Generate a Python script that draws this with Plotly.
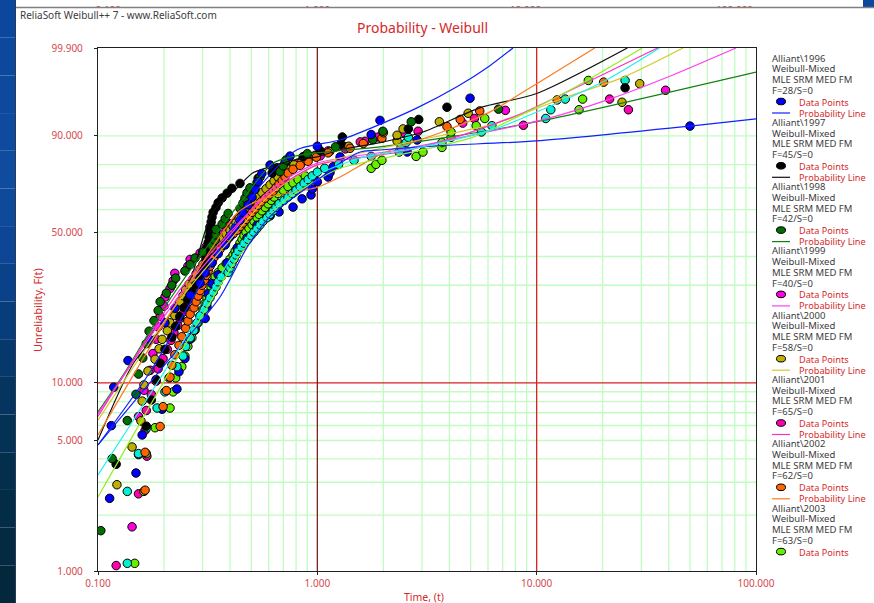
import math
import plotly.graph_objects as go

W, H = 874, 603

# (unreliability %, time)
PTS_1996 = [(2.46,.113),(5.99,.115),(9.5,.118),(13.0,.137),(16.5,.173),(20.0,.202),(23.5,.224),(27.1,.263),(30.6,.292),(34.1,.308),(37.6,.331),(41.1,.353),(44.6,.380),(48.2,.400),(51.7,.422),(55.2,.444),(58.7,.458),(62.2,.483),(65.7,.504),(69.3,.520),(72.8,.537),(76.3,.559),(79.8,.609),(83.3,.751),(86.8,1.00),(90.4,1.76),(93.9,1.93),(97.5,4.97)]
PTS_1997 = [(3.74,.121),(5.95,.166),(8.15,.175),(10.4,.184),(12.6,.192),(14.8,.202),(17.0,.217),(19.2,.226),(21.4,.236),(23.6,.247),(25.8,.257),(28.0,.268),(30.2,.280),(32.4,.292),(34.6,.301),(36.8,.308),(39.0,.311),(41.2,.314),(43.4,.314),(45.6,.318),(47.8,.321),(50.0,.324),(52.2,.324),(54.4,.328),(56.6,.331),(58.8,.335),(61.0,.345),(63.2,.353),(65.4,.368),(67.6,.388),(69.8,.408),(72.0,.444),(74.3,.537),(76.5,.622),(78.7,.655),(80.9,.713),(83.1,.861),(85.3,1.03),(87.5,1.28),(89.7,1.30),(91.9,2.60),(94.1,2.90),(96.3,3.90),(98.5,25.3)]
PTS_1998 = [(1.65,.103),(4.01,.116),(6.37,.136),(8.73,.149),(11.1,.153),(13.4,.160),(15.8,.166),(18.2,.171),(20.5,.180),(22.9,.188),(25.2,.192),(27.6,.205),(30.0,.217),(32.3,.226),(34.7,.249),(37.0,.263),(39.4,.277),(41.7,.300),(44.1,.331),(46.5,.342),(48.8,.345),(51.2,.345),(53.5,.368),(55.9,.380),(58.3,.392),(60.6,.444),(63.0,.458),(65.3,.468),(67.7,.478),(70.0,.493),(72.4,.531),(74.8,.548),(77.1,.676),(79.5,.698),(81.8,.720),(84.2,.900),(86.6,1.21),(88.9,1.79),(91.3,1.99),(93.6,2.68),(96.0,6.70)]
PTS_1999 = [(1.73,.143),(4.21,.153),(6.68,.153),(9.16,.162),(11.6,.173),(14.1,.178),(16.6,.184),(19.1,.188),(21.5,.192),(24.0,.200),(26.5,.202),(29.0,.213),(31.4,.220),(33.9,.224),(36.4,.257),(38.9,.263),(41.3,.292),(43.8,.311),(46.3,.331),(48.8,.360),(51.2,.384),(53.7,.408),(56.2,.435),(58.7,.463),(61.1,.493),(63.6,.526),(66.1,.559),(68.6,.597),(71.0,.629),(73.5,.669),(76.0,.713),(78.5,.767),(80.9,.852),(83.4,1.03),(85.9,1.34),(88.4,1.65),(90.8,2.50),(93.3,4.60),(95.8,7.20),(98.3,38.7)]
PTS_2000 = [(2.91,.122),(4.62,.143),(6.34,.157),(8.05,.159),(9.76,.162),(11.5,.169),(13.2,.182),(14.9,.190),(16.6,.196),(18.3,.207),(20.0,.213),(21.7,.224),(23.4,.229),(25.2,.236),(26.9,.244),(28.6,.251),(30.3,.260),(32.0,.271),(33.7,.280),(35.4,.292),(37.1,.301),(38.8,.311),(40.6,.324),(42.3,.338),(44.0,.349),(45.7,.360),(47.4,.372),(49.1,.384),(50.8,.400),(52.5,.413),(54.2,.426),(56.0,.440),(57.7,.454),(59.4,.468),(61.1,.483),(62.8,.498),(64.5,.514),(66.2,.537),(67.9,.559),(69.6,.584),(71.4,.609),(73.1,.635),(74.8,.662),(76.5,.698),(78.2,.735),(79.9,.783),(81.6,.852),(83.3,.977),(85.0,1.14),(86.8,1.39),(88.5,2.31),(90.2,2.31),(91.9,2.46),(93.6,3.60),(95.3,4.87),(97.0,24.5),(98.8,29.5)]
PTS_2001 = [(1.07,.121),(2.60,.153),(4.13,.167),(5.66,.164),(7.19,.166),(8.72,.175),(10.2,.184),(11.8,.188),(13.3,.198),(14.8,.207),(16.4,.215),(17.9,.222),(19.4,.231),(21.0,.236),(22.5,.244),(24.0,.251),(25.5,.257),(27.1,.263),(28.6,.268),(30.1,.277),(31.7,.286),(33.2,.292),(34.7,.301),(36.2,.308),(37.8,.314),(39.3,.321),(40.8,.331),(42.4,.342),(43.9,.353),(45.4,.364),(46.9,.376),(48.5,.388),(50.0,.404),(51.5,.417),(53.1,.431),(54.6,.444),(56.1,.458),(57.6,.473),(59.2,.488),(60.7,.504),(62.2,.520),(63.8,.537),(65.3,.554),(66.8,.571),(68.3,.597),(69.9,.622),(71.4,.641),(72.9,.662),(74.5,.683),(76.0,.705),(77.5,.735),(79.0,.767),(80.6,.817),(82.1,.880),(83.6,.977),(85.2,1.12),(86.7,1.34),(88.2,1.57),(89.7,1.90),(91.3,2.88),(92.8,8.70),(94.3,5.20),(95.9,26.2),(97.4,21.5)]
PTS_2002 = [(2.72,.164),(4.33,.164),(5.93,.192),(7.53,.198),(9.13,.205),(10.7,.213),(12.3,.217),(13.9,.224),(15.5,.234),(17.1,.241),(18.8,.251),(20.4,.257),(22.0,.263),(23.6,.274),(25.2,.280),(26.8,.286),(28.4,.292),(30.0,.298),(31.6,.305),(33.2,.311),(34.8,.318),(36.4,.324),(38.0,.331),(39.6,.338),(41.2,.349),(42.8,.360),(44.4,.372),(46.0,.384),(47.6,.396),(49.2,.413),(50.8,.431),(52.4,.444),(54.0,.458),(55.6,.473),(57.2,.488),(58.8,.504),(60.4,.520),(62.1,.537),(63.7,.554),(65.3,.578),(66.9,.603),(68.5,.629),(70.1,.648),(71.7,.669),(73.3,.691),(74.9,.713),(76.5,.735),(78.1,.775),(79.7,.835),(81.3,.908),(82.9,.990),(84.5,1.12),(86.1,1.41),(87.7,1.62),(89.3,1.97),(90.9,2.00),(92.5,3.90),(94.1,4.48),(95.7,5.50),(97.3,12.4),(98.9,20.2)]
PTS_2003 = [(1.10,.147),(2.68,.162),(4.26,.166),(5.84,.182),(7.41,.213),(8.99,.220),(10.6,.226),(12.1,.241),(13.7,.249),(15.3,.257),(16.9,.268),(18.4,.277),(20.0,.286),(21.6,.292),(23.2,.301),(24.8,.308),(26.3,.314),(27.9,.321),(29.5,.328),(31.1,.335),(32.7,.342),(34.2,.353),(35.8,.368),(37.4,.384),(39.0,.400),(40.6,.413),(42.1,.422),(43.7,.435),(45.3,.444),(46.9,.454),(48.5,.463),(50.0,.473),(51.6,.488),(53.2,.504),(54.8,.514),(56.4,.531),(57.9,.542),(59.5,.559),(61.1,.578),(62.7,.597),(64.3,.616),(65.8,.635),(67.4,.662),(69.0,.698),(70.6,.735),(72.2,.775),(73.7,.817),(75.3,.880),(76.9,1.14),(78.5,1.76),(80.1,1.85),(81.7,1.97),(83.2,2.82),(84.8,3.03),(86.4,3.70),(88.0,3.70),(89.6,4.07),(91.1,4.07),(92.7,5.30),(94.3,5.80),(95.9,15.6),(97.4,16.2),(99.0,17.2)]
PTS_EXTRA_BLUE = [(3.36,.149),(5.35,.159),(7.3,.196),(9.3,.229),(11.4,.234),(13.3,.249),(16.6,.263),(18.8,.277),(21.0,.308),(23.8,.314),(27.4,.318),(30.5,.331),(33.4,.353),(37.6,.388),(43.3,.431),(47.5,.478),(53.0,.531),(57.2,.609),(59.0,.669),(61.2,.775),(65.0,.852),(66.8,.936),(69.5,.948),(72.7,1.00),(74.8,1.12),(76.6,1.14),(79.1,1.18),(83.0,1.27),(84.8,2.57),(88.8,2.85),(92.6,50.0)]
PTS_CYAN = [(1.10,.136),(2.68,.136),(4.26,.153),(5.84,.167),(7.41,.186),(8.99,.202),(10.6,.211),(12.1,.229),(13.7,.244),(15.3,.251),(16.9,.263),(18.4,.274),(20.0,.283),(21.6,.292),(23.2,.305),(24.8,.314),(26.3,.324),(27.9,.335),(29.5,.345),(31.1,.353),(32.7,.364),(34.2,.392),(35.8,.400),(37.4,.408),(39.0,.417),(40.6,.426),(42.1,.435),(43.7,.449),(45.3,.463),(46.9,.483),(48.5,.498),(50.0,.514),(51.6,.531),(53.2,.548),(54.8,.565),(56.4,.590),(57.9,.609),(59.5,.629),(61.1,.648),(62.7,.669),(64.3,.705),(65.8,.735),(67.4,.767),(69.0,.800),(70.6,.835),(72.2,.870),(73.7,.908),(75.3,.948),(76.9,1.00),(78.5,1.08),(80.1,1.25),(81.7,1.47),(83.2,1.76),(84.8,2.36),(86.4,2.41),(88.0,2.54),(89.6,2.60),(91.1,5.60),(92.7,6.25),(94.3,11.0),(95.9,11.6),(97.4,13.5),(99.0,25.3)]

# probability lines: (time, unreliability %)
LINE_1996 = [(.1,4.74),(.173,11.4),(.292,30),(.4,51),(.565,72.3),(.809,85.6),(1.27,88.8),(1.79,92.3),(2.85,96.2),(4.35,98.6),(6.1,99.6),(7.8,99.9)]
LINE_1997 = [(.1,5.03),(.145,12.6),(.192,18.5),(.263,31.7),(.331,58.5),(.431,70),(.509,76.6),(.629,79.5),(.775,81.8),(1.0,83),(1.27,85.6),(1.93,88),(3.03,91.1),(5.5,96.2),(10,98),(25.9,99.9)]
LINE_1998 = [(.1,7.07),(.133,11.4),(.202,23.9),(.349,49.5),(.444,63.1),(.629,80.6),(.835,83.7),(1.93,86.6),(4.1,89.8),(11,94),(100,99.4)]
LINE_1999 = [(.1,6.9),(.236,27.1),(.4,48.7),(.609,69),(1,80.6),(2.38,85.6),(11,94.2),(21.5,97.4),(41.8,99.28),(81,99.9)]
LINE_2000 = [(.1,6.4),(.236,25.7),(.4,46.6),(.609,66.8),(1,79.9),(2.57,88),(6.6,93.3),(13.2,97.5),(24.9,99.18),(46.5,99.9)]
LINE_2001 = [(.1,6.7),(.236,28.6),(.4,50),(.609,67.6),(1,79.9),(2.38,84.8),(4.35,89.8),(8.7,95.4),(17.8,99.03),(35.6,99.9)]
LINE_2002 = [(.1,5.35),(.236,26.2),(.431,58.5),(.509,63.1),(.629,66.3),(1,70.3),(1.27,74.8),(1.99,84.4),(3.63,90.9),(6.1,95.5),(10,98.8),(18.4,99.9)]
LINE_2003 = [(.1,2.5),(.257,16.5),(.422,38),(.676,62.2),(1,73.5),(1.27,78.5),(2.57,84.4),(5.1,89.6),(10,96.3),(14.8,98.5),(30.3,99.9)]
LINE_EXTRA_BLUE = [(.1,4.74),(.192,11.6),(.36,26.5),(.478,43.6),(.609,57),(.809,66.8),(1,73.5),(1.27,80.6),(1.57,84.8),(1.99,85.6),(3.63,87),(10,88.5),(50,92.6),(100,94.2)]
LINE_CYAN = [(.1,3.28),(.244,16.1),(.4,38.7),(.609,59),(1,75.7),(1.57,82.6),(2.94,86.4),(6.6,92.1),(12.4,96.9),(20.8,99.03),(36.3,99.9)]

SERIES = [
    ("Alliant\\1996", 28, "#0000ff", "#1020ff", PTS_1996, LINE_1996),
    ("Alliant\\1997", 45, "#000000", "#101010", PTS_1997, LINE_1997),
    ("Alliant\\1998", 42, "#006e00", "#108010", PTS_1998, LINE_1998),
    ("Alliant\\1999", 40, "#ff00e0", "#ff40f0", PTS_1999, LINE_1999),
    ("Alliant\\2000", 58, "#bdb000", "#d4c830", PTS_2000, LINE_2000),
    ("Alliant\\2001", 65, "#ff00b0", "#ff30c0", PTS_2001, LINE_2001),
    ("Alliant\\2002", 62, "#ff6400", "#ff7820", PTS_2002, LINE_2002),
    ("Alliant\\2003", 63, "#66f000", "#90f020", PTS_2003, LINE_2003),
    ("Alliant\\2004", None, "#0000ff", "#1020ff", PTS_EXTRA_BLUE, LINE_EXTRA_BLUE),
    ("Alliant\\2005", None, "#00f0d0", "#20f0f0", PTS_CYAN, LINE_CYAN),
]
DRAW_ORDER = [3, 5, 4, 7, 8, 9, 6, 1, 2, 0]

Y_TICKS = [1, 5, 10, 50, 90, 99.9]
Y_TICK_TEXT = ["1.000", "5.000", "10.000", "50.000", "90.000", "99.900"]
Y_GRID = [2, 3, 4, 6, 7, 8, 9, 20, 30, 40, 60, 70, 80]
X_TICKS = [.1, 1, 10, 100]
X_TICK_TEXT = ["0.100", "1.000", "10.000", "100.000"]
X_GRID = [m * d for d in (.1, 1, 10) for m in range(2, 10)]

RED = "#d42a2a"
LABEL = "#d4494f"
DARK = "#3c3c3c"
GREEN = "#c2fcc2"
FONT = "Noto Sans, sans-serif"
STRIP = ["#0b479c", "#0c489c", "#0d4a9e", "#0e4b9f", "#0f4c9e", "#0e4a9a", "#0c4694", "#0a428a", "#083d7c", "#06386c", "#05345e", "#043254", "#042f4c", "#032c46", "#032a40", "#03283c"]


def wb(f):
    return math.log(-math.log(1 - f / 100))


fig = go.Figure()
for idx in DRAW_ORDER:
    name, n, pc, lc, pts, line = SERIES[idx]
    fig.add_trace(go.Scatter(
        x=[p[1] for p in pts], y=[wb(p[0]) for p in pts], mode="markers", name=name,
        marker=dict(color=pc, size=8.5, line=dict(color="#000000", width=1)),
        showlegend=False))
for name, n, pc, lc, pts, line in SERIES:
    fig.add_trace(go.Scatter(
        x=[p[0] for p in line], y=[wb(p[1]) for p in line], mode="lines",
        line=dict(color=lc, width=1.2, shape="spline", smoothing=0.7), showlegend=False))

# the clipped axis labels of the chart above, at the very top of the page
fig.add_trace(go.Scatter(x=[71, 94, 307, 519, 732], y=[-5, 11, 11, 11, 11],
                         text=["<b>0.100</b>", "0.100", "1.000", "10.000", "100.000"], mode="text",
                         textfont=dict(color="#d42a2a", size=10, family=FONT), xaxis="x2", yaxis="y2",
                         showlegend=False, cliponaxis=True))

shapes = []
for i, c in enumerate(STRIP):
    shapes.append(dict(type="rect", xref="paper", yref="paper", x0=0, x1=16 / W,
                       y0=1 - (i + 1) / len(STRIP), y1=1 - i / len(STRIP),
                       fillcolor=c, line_width=0, layer="below"))
shapes.append(dict(type="line", xref="paper", yref="paper", x0=15.5 / W, x1=15.5 / W, y0=0, y1=1,
                   line=dict(color="#2a3a5a", width=1)))
shapes.append(dict(type="rect", xref="paper", yref="paper", x0=863 / W, x1=1, y0=1 - 7 / H, y1=1,
                   fillcolor="#0b479c", line_width=0))
shapes.append(dict(type="line", xref="paper", yref="paper", x0=16 / W, x1=1, y0=1 - 7.5 / H, y1=1 - 7.5 / H,
                   line=dict(color="#808080", width=1.5)))
for f in Y_GRID + [5, 50, 90]:
    shapes.append(dict(type="line", xref="x domain", yref="y", x0=0, x1=1, y0=wb(f), y1=wb(f),
                       line=dict(color=GREEN, width=1.3), layer="below"))
for x in X_GRID:
    shapes.append(dict(type="line", xref="x", yref="y domain", x0=x, x1=x, y0=0, y1=1,
                       line=dict(color=GREEN, width=1.3), layer="below"))
shapes.append(dict(type="line", xref="x domain", yref="y", x0=0, x1=1, y0=wb(10), y1=wb(10),
                   line=dict(color="#d82020", width=1.3), layer="below"))
shapes.append(dict(type="line", xref="x", yref="y domain", x0=1, x1=1, y0=0, y1=1,
                   line=dict(color="#7a1010", width=1.2), layer="below"))
shapes.append(dict(type="line", xref="x", yref="y domain", x0=10, x1=10, y0=0, y1=1,
                   line=dict(color="#d82020", width=1.3), layer="below"))

annotations = []


def text(x, y, s, color, size=10, anchor="left", angle=0):
    annotations.append(dict(x=x / W, y=1 - y / H, xref="paper", yref="paper", text=s, showarrow=False,
                            xanchor=anchor, yanchor="middle", textangle=angle, borderpad=0, borderwidth=0,
                            font=dict(color=color, size=size, family=FONT)))


text(20, 14.5, "ReliaSoft Weibull++ 7 - www.ReliaSoft.com", DARK, 10)
text(422, 27, "Probability - Weibull", RED, 14, "center")
text(424, 596.5, "Time, (t)", RED, 10.5, "center")
text(37, 310, "Unreliability, F(t)", RED, 11, "center", -90)

for i, (name, n, pc, lc, pts, line) in enumerate(SERIES[:8]):
    top = 58 + 64.3 * i
    for k, s in enumerate([name, "Weibull-Mixed", "MLE SRM MED FM", f"F={n}/S=0"]):
        text(772, top + 10.7 * k, s, DARK, 9.5)
    text(798.5, top + 44, "Data Points", RED, 9.2)
    my = top + 43.5
    shapes.append(dict(type="circle", xref="paper", yref="paper", x0=776.5 / W, x1=785.5 / W,
                       y0=1 - (my + 3.3) / H, y1=1 - (my - 3.3) / H, fillcolor=pc,
                       line=dict(color="#000000", width=1)))
    if i < 7:
        text(798.5, top + 55, "Probability Line", RED, 9.2)
        ly = top + 55
        shapes.append(dict(type="line", xref="paper", yref="paper", x0=772 / W, x1=790 / W,
                           y0=1 - ly / H, y1=1 - ly / H, line=dict(color=lc, width=1.2)))

fig.update_layout(
    width=W, height=H, margin=dict(l=0, r=0, t=0, b=0, autoexpand=False), paper_bgcolor="#ffffff", plot_bgcolor="#ffffff",
    shapes=shapes, annotations=annotations, showlegend=False,
    xaxis=dict(type="log", range=[-1, 2], domain=[98 / W, 756 / W], tickvals=X_TICKS, ticktext=X_TICK_TEXT,
               showgrid=False, zeroline=False, showline=True, mirror=True, linecolor="#202020", linewidth=1.3,
               ticks="outside", ticklen=3, tickcolor="#202020", tickfont=dict(color=LABEL, size=10, family=FONT)),
    yaxis=dict(range=[wb(1), wb(99.9)], domain=[1 - 571 / H, 1 - 48 / H], tickvals=[wb(f) for f in Y_TICKS],
               ticktext=Y_TICK_TEXT, showgrid=False, zeroline=False, showline=True, mirror=True,
               linecolor="#202020", linewidth=1.3, ticks="outside", ticklen=3, tickcolor="#202020",
               ticklabelstandoff=9, tickfont=dict(color=LABEL, size=10, family=FONT)),
    xaxis2=dict(range=[0, W], domain=[16 / W, 1], anchor="y2", visible=False, fixedrange=True),
    yaxis2=dict(range=[8, 0], domain=[1 - 8 / H, 1], anchor="x2", visible=False, fixedrange=True),
)
fig.write_html("out.html", config={"displayModeBar": False},
               post_script="document.body.style.margin='0';document.documentElement.style.overflow='hidden';")
